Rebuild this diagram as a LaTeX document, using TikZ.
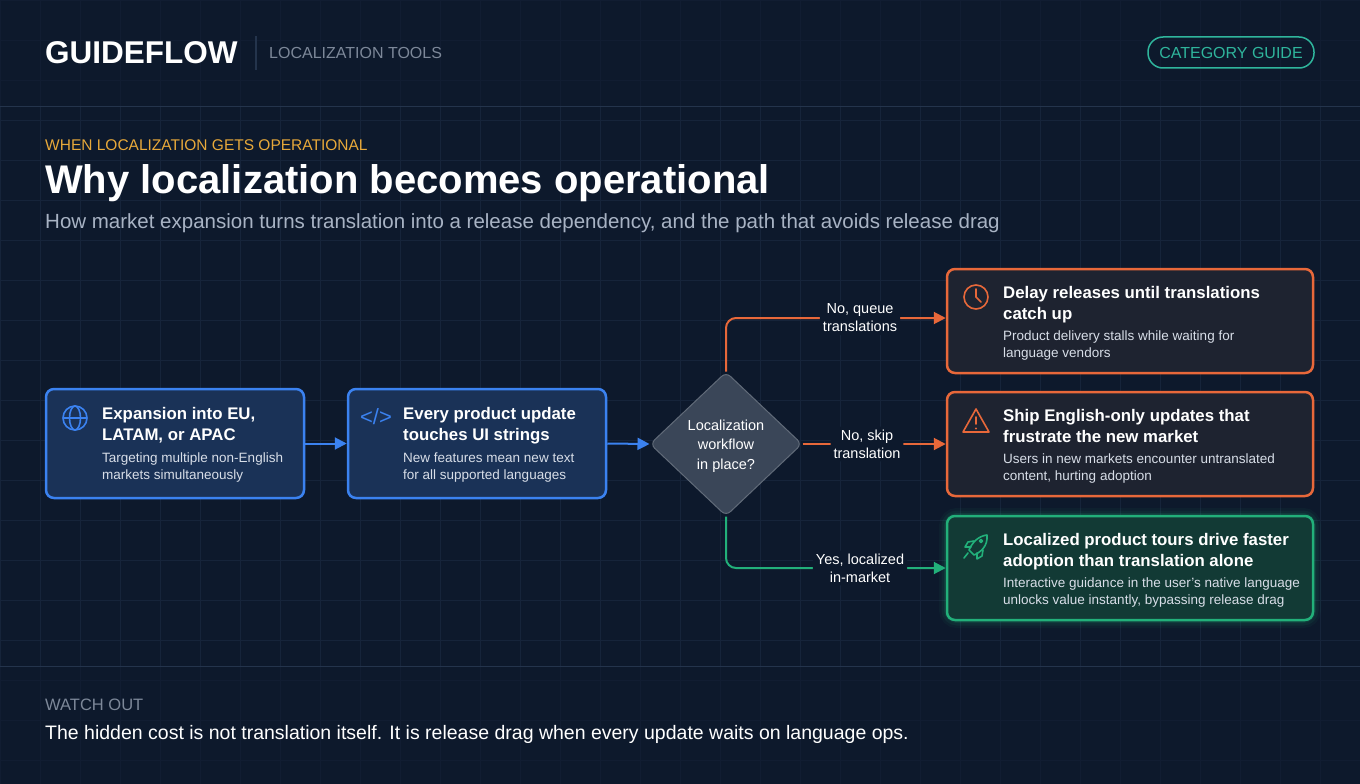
\documentclass[tikz,border=0pt]{standalone}
\usepackage{fontspec}
\setmainfont{Liberation Sans}
\usetikzlibrary{arrows.meta,shapes.geometric}
\definecolor{bg}{HTML}{0D192C}
\definecolor{gridc}{HTML}{16243A}
\definecolor{rulec}{HTML}{24344C}
\definecolor{blueb}{HTML}{3B82F0}
\definecolor{bluef}{HTML}{1A3257}
\definecolor{orab}{HTML}{E8683A}
\definecolor{oraf}{HTML}{1E2330}
\definecolor{grnb}{HTML}{22B07A}
\definecolor{grnf}{HTML}{123A35}
\definecolor{teal}{HTML}{2FB59C}
\definecolor{amber}{HTML}{E8A93A}
\definecolor{sub}{HTML}{A8B3C4}
\definecolor{dimc}{HTML}{7D8899}
\definecolor{diaf}{HTML}{3A4658}
\definecolor{dtext}{HTML}{D8DEE8}
\begin{document}
\begin{tikzpicture}[x=1pt,y=-1pt,
  card/.style={rounded corners=8pt,line width=2.5pt,inner sep=0pt},
  ttl/.style={anchor=north west,align=left,text=white,font=\bfseries\fontsize{16.8}{21.5}\selectfont,inner sep=0pt},
  dsc/.style={anchor=north west,align=left,text=dtext,font=\fontsize{13.5}{16.5}\selectfont,inner sep=0pt},
  lbl/.style={align=center,text=white,font=\fontsize{14.5}{18}\selectfont,fill=bg,inner sep=3pt},
  conn/.style={line width=2pt,rounded corners=10pt},
  tip/.style={-{Triangle[length=12pt,width=12pt]}}]
\useasboundingbox (0,0) rectangle (1360,784);
\fill[bg] (0,0) rectangle (1360,784);
\foreach \x in {0,40,...,1360} \draw[gridc,line width=0.6pt] (\x,0) -- (\x,784);
\foreach \y in {0,40,...,784} \draw[gridc,line width=0.6pt] (0,\y) -- (1360,\y);
\fill[bg,opacity=0.55] (0,0) rectangle (1360,106);
\fill[bg,opacity=0.55] (0,666) rectangle (1360,784);
\draw[rulec,line width=1pt] (0,106) -- (1360,106);
\draw[rulec,line width=1pt] (0,666) -- (1360,666);
% header
\node[anchor=west,inner sep=0pt,text=white,font=\bfseries\fontsize{31.5}{31.5}\selectfont] (logo) at (45,53) {GUIDEFLOW};
\draw[rulec,line width=1.2pt] (256,36) -- (256,70);
\node[anchor=west,inner sep=0pt,text=dimc,font=\fontsize{16}{16}\selectfont] (cat) at (269,53) {LOCALIZATION TOOLS};
\node[draw=teal,line width=1.5pt,rounded corners=15pt,minimum width=166pt,minimum height=31pt,text=teal,font=\fontsize{16}{16}\selectfont] (pill) at (1231,52.5) {CATEGORY GUIDE};
% titles
\node[anchor=west,inner sep=0pt,text=amber,font=\fontsize{15.5}{15.5}\selectfont] (kick) at (45,145) {WHEN LOCALIZATION GETS OPERATIONAL};
\node[anchor=west,inner sep=0pt,text=white,font=\bfseries\fontsize{40}{40}\selectfont] (title) at (45,183) {Why localization becomes operational};
\node[anchor=west,inner sep=0pt,text=sub,font=\fontsize{20.5}{20.5}\selectfont] (subt) at (45,223) {How market expansion turns translation into a release dependency, and the path that avoids release drag};
% blue cards
\node[card,draw=blueb,fill=bluef,minimum width=258pt,minimum height=109pt] (b1) at (175,443.5) {};
\node[card,draw=blueb,fill=bluef,minimum width=258pt,minimum height=109pt] (b2) at (477,443.5) {};
\node[ttl] (b1t) at (102,407) {Expansion into EU,\\LATAM, or APAC};
\node[dsc] (b1d) at (102,453) {Targeting multiple non-English\\markets simultaneously};
\node[ttl] (b2t) at (403,407) {Every product update\\touches UI strings};
\node[dsc] (b2d) at (403,453) {New features mean new text\\for all supported languages};
% globe icon
\begin{scope}[blueb,line width=1.6pt]
\draw (75,418) circle (12);
\draw (75,418) ellipse (5.5 and 12);
\draw (63,418) -- (87,418);
\end{scope}
\node[text=blueb,font=\fontsize{22}{22}\selectfont,inner sep=0pt] (code) at (376,417) {</>};
% diamond
\node[diamond,fill=diaf,draw=diaf!80!white,line width=1pt,minimum width=152pt,minimum height=144pt,rounded corners=6pt,inner sep=0pt] (dia) at (726,444) {};
\node[align=center,text=white,font=\fontsize{14.5}{19.5}\selectfont] (diat) at (726,446) {Localization\\workflow\\in place?};
% right cards
\node[card,draw=orab,fill=oraf,minimum width=366pt,minimum height=104pt] (r1) at (1130,321) {};
\node[card,draw=orab,fill=oraf,minimum width=366pt,minimum height=104pt] (r2) at (1130,444) {};
\foreach \w/\o in {16/0.05,11/0.08,6/0.12}
  \draw[grnb,opacity=\o,line width=\w pt,rounded corners=10pt] (947,516) rectangle (1313,620);
\node[card,draw=grnb,fill=grnf,minimum width=366pt,minimum height=104pt] (r3) at (1130,568) {};
\node[ttl] (r1t) at (1003,286) {Delay releases until translations\\catch up};
\node[dsc] (r1d) at (1003,331) {Product delivery stalls while waiting for\\language vendors};
\node[ttl] (r2t) at (1003,409) {Ship English-only updates that\\frustrate the new market};
\node[dsc] (r2d) at (1003,454) {Users in new markets encounter untranslated\\content, hurting adoption};
\node[ttl] (r3t) at (1003,533) {Localized product tours drive faster\\adoption than translation alone};
\node[dsc] (r3d) at (1003,578) {Interactive guidance in the user's native language\\unlocks value instantly, bypassing release drag};
% icons right
\draw[orab,line width=1.6pt] (976,297) circle (12);
\draw[orab,line width=1.6pt,line cap=round] (976,289) -- (976,297) -- (981,302);
\draw[orab,line width=1.6pt,line join=round] (976,409) -- (989,432) -- (963,432) -- cycle;
\draw[orab,line width=1.8pt,line cap=round] (976,417) -- (976,424);
\fill[orab] (976,428.5) circle (1.2);
\begin{scope}[grnb,line width=1.6pt,line join=round,line cap=round]
\draw (987,535) .. controls (978,536) and (972,543) .. (969,550) -- (974,555) .. controls (981,552) and (988,546) .. (987,535) -- cycle;
\draw (971,547) -- (965,547) -- (968,542) -- (974,541);
\draw (977,553) -- (977,559) -- (982,556) -- (983,550);
\draw (968,553) -- (964,558);
\draw (981,541) circle (1.5);
\end{scope}
% connectors
\draw[blueb,line width=2pt,tip] (b1.east) -- (b2.west);
\draw[blueb,line width=2pt,tip] (b2.east) -- (dia.west);
\coordinate (c1) at (726,318);
\coordinate (c3) at (726,568);
\draw[orab,conn,tip] (dia.north) -- (c1) -- (r1.west |- c1) node[lbl,pos=0.61] (l1) {No, queue\\translations};
\draw[orab,conn,tip] (dia.east) -- (r2.west) node[lbl,pos=0.45] (l2) {No, skip\\translation};
\draw[grnb,conn,tip] (dia.south) -- (c3) -- (r3.west |- c3) node[lbl,pos=0.61] (l3) {Yes, localized\\in-market};
% footer
\node[anchor=west,inner sep=0pt,text=dimc,font=\fontsize{16.5}{16.5}\selectfont] (wo) at (45,705) {WATCH OUT};
\node[anchor=west,inner sep=0pt,text=white,font=\fontsize{19.5}{19.5}\selectfont] (foot) at (45,734) {The hidden cost is not translation itself. It is release drag when every update waits on language ops.};
\end{tikzpicture}
\end{document}
